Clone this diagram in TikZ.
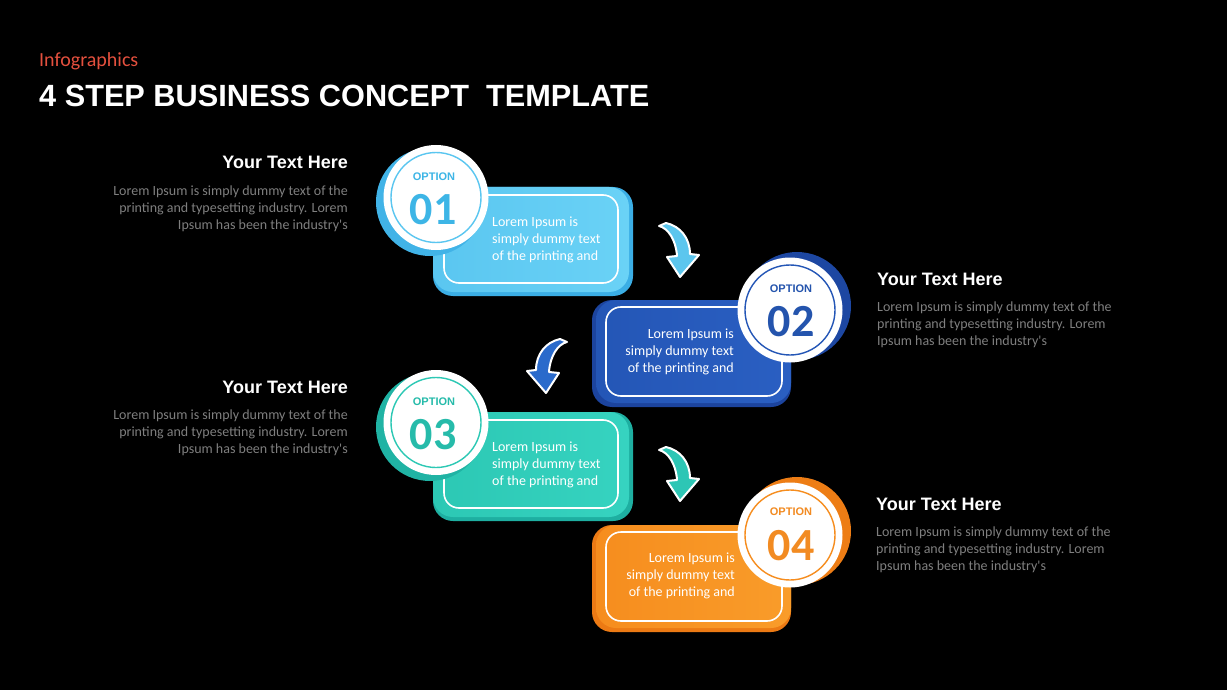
\documentclass[tikz,border=0pt]{standalone}
\usepackage{fontspec}
\setmainfont{Liberation Sans}
\newfontfamily\carl{Carlito}
\definecolor{aLight}{HTML}{5AC6F0}
\definecolor{aLightR}{HTML}{6AD2F6}
\definecolor{aDark}{HTML}{3BAEE5}
\definecolor{aText}{HTML}{3DB5E6}
\definecolor{bLight}{HTML}{2456B6}
\definecolor{bLightR}{HTML}{2A5FC2}
\definecolor{bDark}{HTML}{1C449E}
\definecolor{bText}{HTML}{2454AD}
\definecolor{cLight}{HTML}{2CC8B4}
\definecolor{cLightR}{HTML}{36D3C0}
\definecolor{cDark}{HTML}{1EAFA1}
\definecolor{cText}{HTML}{26BBAA}
\definecolor{dLight}{HTML}{F68D1E}
\definecolor{dLightR}{HTML}{F99C2A}
\definecolor{dDark}{HTML}{EC7A14}
\definecolor{dText}{HTML}{F28B22}
\definecolor{arrA}{HTML}{5CC6EE}
\definecolor{arrB}{HTML}{2A6ACB}
\definecolor{arrC}{HTML}{2DC6B5}
\definecolor{bodygray}{HTML}{7F7F7F}
\definecolor{headred}{HTML}{E4503E}
\begin{document}
\begin{tikzpicture}[x=1pt,y=-1pt,
  panel/.style={rectangle, rounded corners=20pt, inner sep=0pt, draw=none},
  panelline/.style={rectangle, rounded corners=15pt, inner sep=0pt, draw=white, line width=1.6pt},
  discback/.style={circle, inner sep=0pt, minimum size=108pt},
  disc/.style={circle, fill=white, inner sep=0pt, minimum size=105pt},
  ring/.style={circle, inner sep=0pt, minimum size=90pt, line width=1.4pt},
  opttext/.style={font=\fontsize{11}{12}\selectfont\bfseries, inner sep=0pt},
  numtext/.style={font=\carl\bfseries\fontsize{46}{46}\selectfont, inner sep=0pt},
  sidehead/.style={font=\fontsize{18}{20}\selectfont\bfseries, text=white, inner sep=0pt},
  sidebody/.style={font=\carl\fontsize{14}{17}\selectfont, text=bodygray, inner sep=0pt},
  boxtext/.style={font=\carl\fontsize{14}{17}\selectfont, text=white, inner sep=0pt, align=left},
  pics/bendarrow/.style={code={
    \path[fill=#1, draw=white, line width=2pt, line join=round]
      (-21,-51) .. controls (-12,-49) and (-4,-37) .. (-3,-21)
      -- (-13,-20) -- (0,0) -- (19,-22) -- (10,-23)
      .. controls (10,-39) and (0,-51) .. (-14,-54) -- cycle;
  }}
]
\fill[black] (0,0) rectangle (1227,690);
\useasboundingbox (0,0) rectangle (1227,690);

% header
\node[anchor=base west, inner sep=0pt, text=headred, font=\carl\fontsize{20}{22}\selectfont] (kicker) at (39,66.5) {Infographics};
\node[anchor=base west, inner sep=0pt, text=white, font=\fontsize{30.7}{32}\selectfont\bfseries] (title) at (39,106.5) {4 STEP BUSINESS CONCEPT\ \ TEMPLATE};

% ---------- step 1 ----------
\node[panel, fill=aDark, minimum width=200pt, minimum height=109pt] (b1back) at (533,241.5) {};
\node[panel, left color=aLight, right color=aLightR, minimum width=196pt, minimum height=105pt] (b1) at (531,239.5) {};
\node[panelline, minimum width=174pt, minimum height=88pt] (b1line) at (531,239) {};
\node[discback, fill=aDark!80!aLight] (c1back) at (430,202) {};
\node[disc] (c1) at (436,197.5) {};
\node[ring, draw=aLight] (c1ring) at (436,197.5) {};
\node[opttext, text=aText] (o1) at (434,177) {OPTION};
\node[numtext, text=aText] (n1) at (433,210) {01};
\node[boxtext, anchor=base west] (t1) at (492,260.5) {Lorem Ipsum is\\simply dummy text\\of the printing and};

% ---------- step 2 ----------
\node[panel, fill=bDark, minimum width=199pt, minimum height=107pt] (b2back) at (691.5,353.5) {};
\node[panel, left color=bLight, right color=bLightR, minimum width=195pt, minimum height=103pt] (b2) at (693.5,351.5) {};
\node[panelline, minimum width=176pt, minimum height=89pt] (b2line) at (694,351.5) {};
\node[discback, fill=bDark!85!bLight] (c2back) at (797,306) {};
\node[disc] (c2) at (790,310) {};
\node[ring, draw=bLight] (c2ring) at (790,310) {};
\node[opttext, text=bText] (o2) at (791,289) {OPTION};
\node[numtext, text=bText] (n2) at (791,322) {02};
\node[boxtext, align=right, anchor=base east] (t2) at (734,372.5) {Lorem Ipsum is\\simply dummy text\\of the printing and};

% ---------- step 3 ----------
\node[panel, fill=cDark, minimum width=200pt, minimum height=109pt] (b3back) at (533,466.5) {};
\node[panel, left color=cLight, right color=cLightR, minimum width=196pt, minimum height=105pt] (b3) at (531,464.5) {};
\node[panelline, minimum width=174pt, minimum height=88pt] (b3line) at (531,464) {};
\node[discback, fill=cDark!85!cLight] (c3back) at (430,427) {};
\node[disc] (c3) at (436,422.5) {};
\node[ring, draw=cLight] (c3ring) at (436,422.5) {};
\node[opttext, text=cText] (o3) at (434,402) {OPTION};
\node[numtext, text=cText] (n3) at (433,435) {03};
\node[boxtext, anchor=base west] (t3) at (492,485.5) {Lorem Ipsum is\\simply dummy text\\of the printing and};

% ---------- step 4 ----------
\node[panel, fill=dDark, minimum width=199pt, minimum height=107pt] (b4back) at (691.5,578.5) {};
\node[panel, left color=dLight, right color=dLightR, minimum width=195pt, minimum height=103pt] (b4) at (693.5,576.5) {};
\node[panelline, minimum width=176pt, minimum height=89pt] (b4line) at (694,576.5) {};
\node[discback, fill=dDark!85!dLight] (c4back) at (797,531) {};
\node[disc] (c4) at (790,535) {};
\node[ring, draw=dLight] (c4ring) at (790,535) {};
\node[opttext, text=dText] (o4) at (791,512) {OPTION};
\node[numtext, text=dText] (n4) at (791,546) {04};
\node[boxtext, align=right, anchor=base east] (t4) at (735,596.5) {Lorem Ipsum is\\simply dummy text\\of the printing and};

% ---------- arrows ----------
\pic (arrow1) at (680,277) {bendarrow=arrA};
\pic[xscale=-1] (arrow2) at (546,393) {bendarrow=arrB};
\pic (arrow3) at (680,501) {bendarrow=arrC};

% ---------- side texts ----------
\node[sidehead, anchor=base east] (h1) at (348,168.5) {Your Text Here};
\node[sidebody, align=right, anchor=base east] (p1) at (348,229.5) {Lorem Ipsum is simply dummy text of the\\printing and typesetting industry. Lorem\\Ipsum has been the industry's};

\node[sidehead, anchor=base west] (h2) at (877,285.5) {Your Text Here};
\node[sidebody, align=left, anchor=base west] (p2) at (877,345.5) {Lorem Ipsum is simply dummy text of the\\printing and typesetting industry. Lorem\\Ipsum has been the industry's};

\node[sidehead, anchor=base east] (h3) at (348,393.5) {Your Text Here};
\node[sidebody, align=right, anchor=base east] (p3) at (348,453.5) {Lorem Ipsum is simply dummy text of the\\printing and typesetting industry. Lorem\\Ipsum has been the industry's};

\node[sidehead, anchor=base west] (h4) at (876,510.5) {Your Text Here};
\node[sidebody, align=left, anchor=base west] (p4) at (876,570.5) {Lorem Ipsum is simply dummy text of the\\printing and typesetting industry. Lorem\\Ipsum has been the industry's};
\end{tikzpicture}
\end{document}
